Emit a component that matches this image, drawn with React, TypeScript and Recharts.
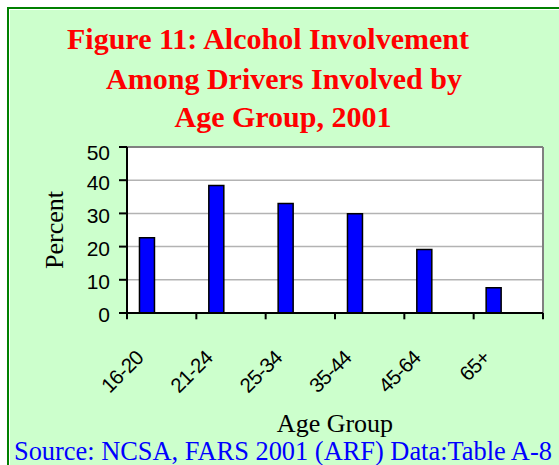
import React from "react";
import { BarChart, Bar, XAxis, YAxis, CartesianGrid, ReferenceLine } from "recharts";

const categories = ["16-20", "21-24", "25-34", "35-44", "45-64", "65+"];
const percentValues = [22.7, 38.4, 33.0, 29.9, 19.1, 7.6];
const yTicks = [0, 10, 20, 30, 40, 50];
const titleLines = ["Figure 11: Alcohol Involvement", "Among Drivers Involved by", "Age Group, 2001"];
const xTitle = "Age Group";
const yTitle = "Percent";
const sourceText = "Source: NCSA, FARS 2001 (ARF) Data:Table A-8";

const data = categories.map((c, i) => ({ cat: c, v: percentValues[i], e1: null, e2: null }));

const SERIF = "'Liberation Serif', 'Times New Roman', serif";
const SANS = "'Liberation Sans', Arial, sans-serif";

const Y_MAX = 50;
const TICK_DEPTH = -1.9; // tick mark length expressed in axis units

const XTick = (props: any) => {
  const { x, y, payload } = props;
  const ax = x - 17;
  const ay = y + 46;
  return (
    <text
      x={ax}
      y={ay}
      textAnchor="end"
      transform={`rotate(-45, ${ax}, ${ay})`}
      fontFamily={SANS}
      fontSize={20.5}
      letterSpacing={-0.6}
      fill="#000"
    >
      {payload.value}
    </text>
  );
};

const YTick = (props: any) => {
  const { x, y, payload } = props;
  const dy = payload.value === 50 ? 6 : 2;
  return (
    <text x={x} y={y + dy} dy="0.355em" textAnchor="end" fontFamily={SANS} fontSize={21} fill="#000">
      {payload.value}
    </text>
  );
};

const titleCenters = [268, 284, 283];
const titleBaselines = [49, 89, 127];

export default function App() {
  const last = categories[categories.length - 1];
  return (
    <div style={{ position: "absolute", left: 0, top: 0, width: 559, height: 465, background: "#fff", overflow: "hidden" }}>
      <div
        style={{
          position: "absolute",
          left: 7,
          top: 7,
          width: 570,
          height: 480,
          boxSizing: "border-box",
          background: "#CCFFCC",
          borderLeft: "2px solid #008000",
          borderTop: "2px solid #008000",
          boxShadow: "inset 1px 1px 0 #ffffff",
        }}
      />
      <div style={{ position: "absolute", left: 0, top: 0 }}>
        <BarChart
          width={559}
          height={465}
          data={data}
          margin={{ top: 147, right: 16, bottom: 151, left: 67 }}
          barCategoryGap="18%"
          barGap={0}
        >
          <CartesianGrid vertical={false} stroke="#B3B3B3" strokeWidth={1.5} fill="#ffffff" />
          <ReferenceLine y={Y_MAX} stroke="#808080" strokeWidth={2} />
          <ReferenceLine x={last} position="end" stroke="#808080" strokeWidth={2} />
          {categories.map((c) => (
            <ReferenceLine
              key={"t" + c}
              segment={[{ x: c, y: 0 }, { x: c, y: TICK_DEPTH }]}
              position="start"
              ifOverflow="visible"
              stroke="#000"
              strokeWidth={2}
            />
          ))}
          <ReferenceLine
            segment={[{ x: last, y: 0 }, { x: last, y: TICK_DEPTH }]}
            position="end"
            ifOverflow="visible"
            stroke="#000"
            strokeWidth={2}
          />
          <XAxis
            dataKey="cat"
            height={1}
            tickLine={false}
            tickSize={0}
            tickMargin={0}
            axisLine={{ stroke: "#000", strokeWidth: 2 }}
            tick={<XTick />}
            interval={0}
          />
          <YAxis
            domain={[0, Y_MAX]}
            ticks={yTicks}
            width={60}
            tickSize={8}
            tickMargin={9}
            tickLine={{ stroke: "#000", strokeWidth: 2 }}
            axisLine={{ stroke: "#000", strokeWidth: 2 }}
            tick={<YTick />}
            interval={0}
            allowDataOverflow
          />
          <Bar dataKey="v" fill="#0000FF" stroke="#000" strokeWidth={1.5} isAnimationActive={false} />
          <Bar dataKey="e1" fill="#0000FF" isAnimationActive={false} />
          <Bar dataKey="e2" fill="#0000FF" isAnimationActive={false} />
        </BarChart>
      </div>
      <svg style={{ position: "absolute", left: 0, top: 0, pointerEvents: "none" }} width={559} height={465}>
        {titleLines.map((t, i) => (
          <text
            key={t}
            x={titleCenters[i]}
            y={titleBaselines[i]}
            textAnchor="middle"
            fontFamily={SERIF}
            fontWeight="bold"
            fontSize={30}
            fill="#FF0000"
          >
            {t}
          </text>
        ))}
        <text
          x={63}
          y={230}
          textAnchor="middle"
          transform="rotate(-90, 63, 230)"
          fontFamily={SERIF}
          fontSize={26}
          fill="#000"
        >
          {yTitle}
        </text>
        <text x={335} y={432} textAnchor="middle" fontFamily={SERIF} fontSize={26} fill="#000">
          {xTitle}
        </text>
        <text x={14} y={460} fontFamily={SERIF} fontSize={26.4} fill="#0000FF">
          {sourceText}
        </text>
      </svg>
    </div>
  );
}
